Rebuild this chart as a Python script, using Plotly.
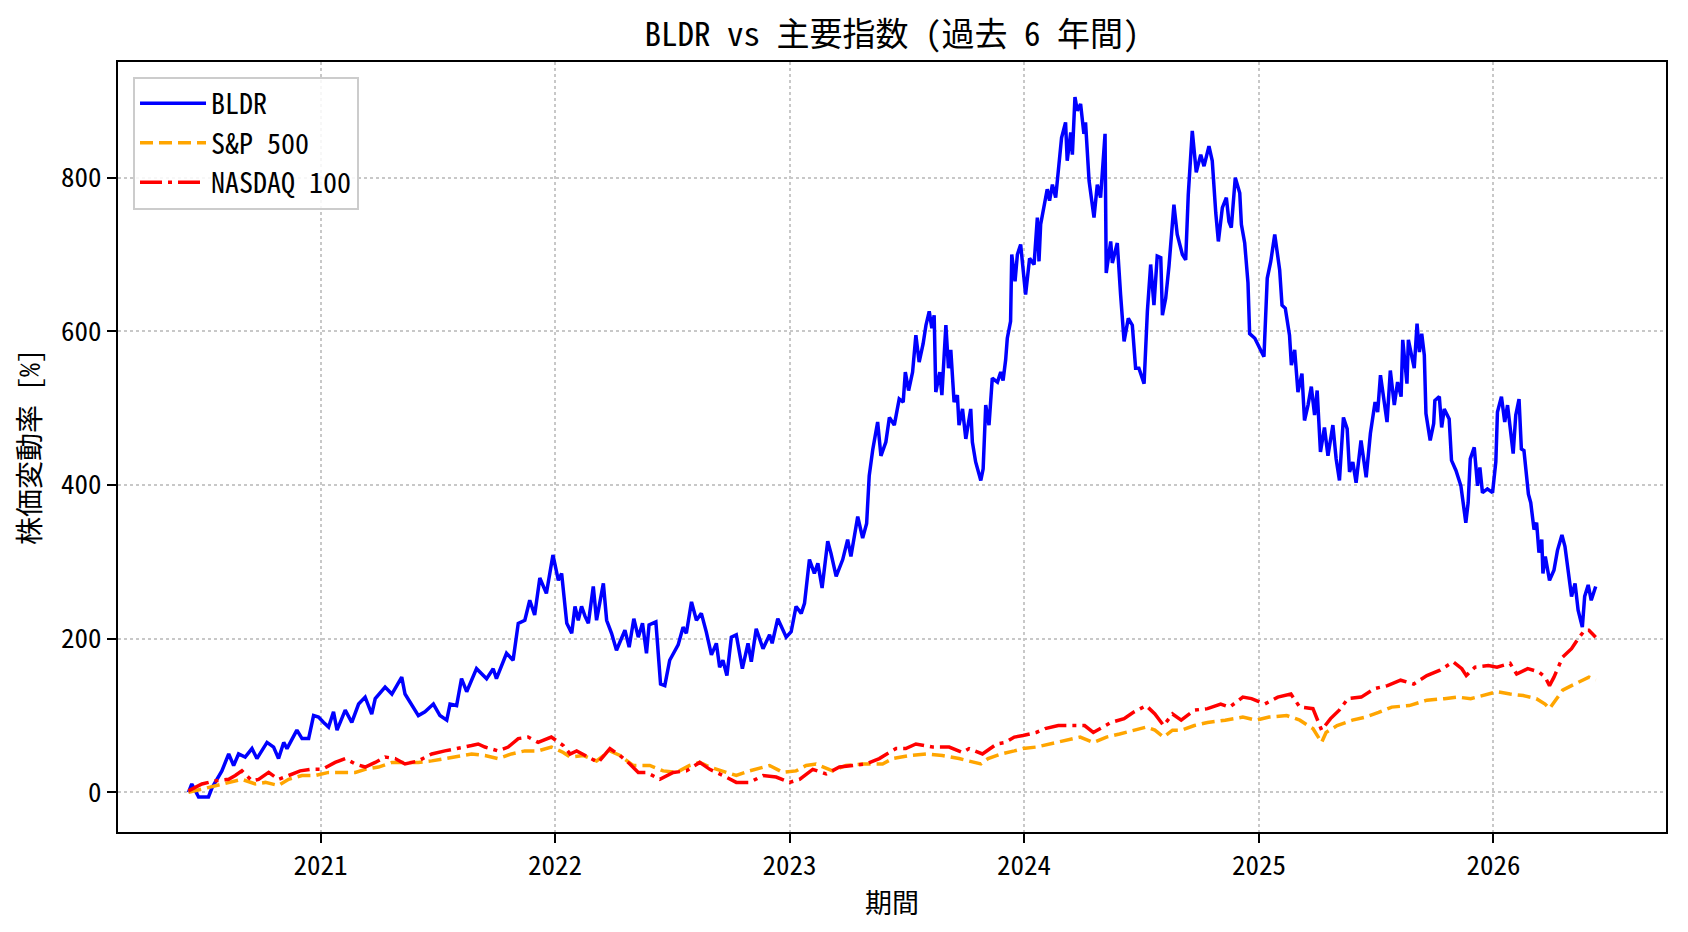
import pandas as pd
import plotly.graph_objects as go

# ---- data (dates as decimal years, values in %) ----
bldr_t = [2020.438, 2020.452, 2020.481, 2020.523, 2020.538, 2020.580, 2020.609, 2020.630, 2020.651, 2020.679,
          2020.708, 2020.729, 2020.772, 2020.800, 2020.821, 2020.843, 2020.857, 2020.899, 2020.921, 2020.949,
          2020.970, 2020.991, 2021.013, 2021.034, 2021.055, 2021.070, 2021.105, 2021.133, 2021.162, 2021.190,
          2021.218, 2021.233, 2021.275, 2021.304, 2021.325, 2021.346, 2021.360, 2021.389, 2021.417, 2021.445,
          2021.481, 2021.509, 2021.538, 2021.552, 2021.580, 2021.601, 2021.623, 2021.665, 2021.708, 2021.736,
          2021.750, 2021.793, 2021.821, 2021.843, 2021.871, 2021.892, 2021.913, 2021.935, 2021.963, 2021.991,
          2022.014, 2022.028, 2022.050, 2022.071, 2022.085, 2022.099, 2022.113, 2022.128, 2022.142, 2022.163,
          2022.177, 2022.206, 2022.220, 2022.241, 2022.262, 2022.298, 2022.316, 2022.336, 2022.355, 2022.373,
          2022.390, 2022.401, 2022.430, 2022.450, 2022.468, 2022.489, 2022.525, 2022.546, 2022.560, 2022.582,
          2022.603, 2022.624, 2022.645, 2022.667, 2022.688, 2022.702, 2022.716, 2022.733, 2022.752, 2022.773,
          2022.799, 2022.823, 2022.837, 2022.858, 2022.887, 2022.915, 2022.926, 2022.950, 2022.986, 2023.007,
          2023.028, 2023.050, 2023.064, 2023.085, 2023.106, 2023.121, 2023.139, 2023.163, 2023.177, 2023.199,
          2023.227, 2023.248, 2023.262, 2023.291, 2023.312, 2023.329, 2023.340, 2023.355, 2023.376, 2023.390,
          2023.411, 2023.426, 2023.447, 2023.468, 2023.485, 2023.494, 2023.508, 2023.525, 2023.539, 2023.553,
          2023.570, 2023.582, 2023.596, 2023.607, 2023.617, 2023.624, 2023.641, 2023.650, 2023.667, 2023.678,
          2023.688, 2023.702, 2023.716, 2023.723, 2023.738, 2023.752, 2023.773, 2023.780, 2023.794, 2023.816,
          2023.826, 2023.837, 2023.851, 2023.865, 2023.887, 2023.901, 2023.911, 2023.922, 2023.929, 2023.943,
          2023.948, 2023.962, 2023.972, 2023.986, 2024.007, 2024.024, 2024.043, 2024.057, 2024.064, 2024.071,
          2024.085, 2024.099, 2024.109, 2024.121, 2024.135, 2024.146, 2024.160, 2024.177, 2024.184, 2024.199,
          2024.206, 2024.217, 2024.227, 2024.241, 2024.255, 2024.262, 2024.277, 2024.298, 2024.312, 2024.326,
          2024.345, 2024.350, 2024.369, 2024.376, 2024.397, 2024.411, 2024.426, 2024.444, 2024.461, 2024.475,
          2024.489, 2024.511, 2024.525, 2024.539, 2024.553, 2024.567, 2024.582, 2024.589, 2024.603, 2024.617,
          2024.638, 2024.652, 2024.674, 2024.688, 2024.699, 2024.716, 2024.733, 2024.752, 2024.766, 2024.787,
          2024.801, 2024.816, 2024.827, 2024.844, 2024.861, 2024.872, 2024.882, 2024.899, 2024.918, 2024.925,
          2024.939, 2024.953, 2024.960, 2024.982, 2025.003, 2025.021, 2025.035, 2025.050, 2025.067, 2025.088,
          2025.098, 2025.112, 2025.130, 2025.138, 2025.152, 2025.166, 2025.183, 2025.194, 2025.209, 2025.223,
          2025.237, 2025.248, 2025.262, 2025.279, 2025.294, 2025.315, 2025.329, 2025.343, 2025.360, 2025.376,
          2025.386, 2025.400, 2025.414, 2025.435, 2025.457, 2025.475, 2025.495, 2025.506, 2025.518, 2025.546,
          2025.560, 2025.577, 2025.591, 2025.606, 2025.613, 2025.631, 2025.637, 2025.662, 2025.674, 2025.684,
          2025.694, 2025.705, 2025.712, 2025.730, 2025.745, 2025.750, 2025.769, 2025.779, 2025.790, 2025.811,
          2025.821, 2025.840, 2025.861, 2025.882, 2025.892, 2025.901, 2025.918, 2025.932, 2025.942, 2025.953,
          2025.974, 2025.996, 2026.010, 2026.017, 2026.034, 2026.048, 2026.060, 2026.084, 2026.095, 2026.109,
          2026.119, 2026.130, 2026.149, 2026.159, 2026.173, 2026.184, 2026.194, 2026.206, 2026.211, 2026.221,
          2026.239, 2026.258, 2026.273, 2026.292, 2026.305, 2026.333, 2026.348, 2026.361, 2026.379, 2026.389,
          2026.404, 2026.417, 2026.436]
bldr_v = [0, 11, -6, -6, 6, 28, 50, 35, 50, 46,
          57, 44, 65, 59, 44, 65, 57, 81, 70, 70,
          100, 98, 91, 85, 105, 81, 107, 91, 115, 124,
          102, 122, 137, 128, 139, 150, 128, 113, 100, 105,
          115, 100, 94, 115, 113, 148, 131, 161, 148, 161,
          148, 181, 172, 220, 224, 250, 231, 279, 259, 309,
          276, 285, 220, 207, 242, 224, 242, 229, 220, 268,
          224, 272, 224, 207, 185, 211, 189, 226, 202, 220,
          181, 218, 222, 141, 139, 172, 192, 215, 207, 248,
          224, 233, 209, 179, 194, 163, 172, 152, 202, 205,
          161, 194, 170, 213, 187, 205, 194, 226, 202, 209,
          242, 233, 246, 303, 285, 298, 266, 327, 311, 281,
          303, 329, 307, 359, 331, 350, 412, 446, 482, 438,
          456, 488, 478, 512, 508, 547, 523, 547, 595, 560,
          584, 608, 626, 604, 621, 521, 547, 517, 608, 552,
          576, 508, 517, 478, 499, 460, 499, 456, 430, 406,
          421, 504, 478, 539, 534, 547, 536, 563, 591, 613,
          700, 665, 700, 713, 648, 695, 687, 748, 691, 739,
          761, 785, 770, 791, 774, 804, 852, 872, 822, 859,
          830, 905, 887, 896, 857, 872, 796, 748, 791, 774,
          857, 676, 717, 689, 715, 648, 587, 617, 608, 552,
          552, 532, 626, 687, 634, 698, 696, 621, 643, 685,
          765, 726, 700, 693, 778, 861, 807, 830, 815, 841,
          822, 754, 717, 761, 774, 743, 735, 800, 780, 739,
          715, 663, 597, 591, 578, 567, 669, 691, 726, 680,
          634, 630, 595, 556, 576, 521, 545, 484, 504, 528,
          491, 523, 443, 475, 438, 478, 434, 406, 488, 473,
          417, 430, 403, 458, 410, 467, 508, 495, 543, 482,
          549, 504, 534, 515, 589, 532, 589, 552, 610, 573,
          597, 569, 493, 458, 480, 510, 515, 475, 499, 486,
          432, 419, 399, 351, 377, 434, 449, 399, 423, 390,
          395, 390, 430, 495, 515, 482, 504, 441, 491, 512,
          447, 445, 388, 377, 342, 351, 312, 329, 285, 307,
          276, 289, 315, 335, 320, 255, 272, 237, 215, 255,
          270, 250, 268]

sp_t = [2020.438, 2020.495, 2020.552, 2020.609, 2020.665, 2020.722, 2020.765, 2020.821, 2020.864, 2020.921,
        2020.977, 2021.034, 2021.091, 2021.148, 2021.190, 2021.247, 2021.304, 2021.360, 2021.417, 2021.474,
        2021.530, 2021.587, 2021.644, 2021.701, 2021.757, 2021.814, 2021.871, 2021.928, 2021.984, 2022.035,
        2022.064, 2022.121, 2022.177, 2022.234, 2022.277, 2022.333, 2022.404, 2022.461, 2022.518, 2022.574,
        2022.617, 2022.660, 2022.716, 2022.773, 2022.830, 2022.915, 2022.972, 2023.028, 2023.071, 2023.113,
        2023.184, 2023.241, 2023.312, 2023.397, 2023.440, 2023.511, 2023.582, 2023.652, 2023.723, 2023.766,
        2023.816, 2023.847, 2023.903, 2023.959, 2023.996, 2024.052, 2024.108, 2024.164, 2024.239, 2024.295,
        2024.351, 2024.407, 2024.464, 2024.520, 2024.557, 2024.594, 2024.632, 2024.669, 2024.725, 2024.781,
        2024.856, 2024.931, 2024.987, 2025.043, 2025.118, 2025.174, 2025.230, 2025.267, 2025.286, 2025.333,
        2025.398, 2025.454, 2025.510, 2025.566, 2025.641, 2025.716, 2025.791, 2025.847, 2025.903, 2025.959,
        2026.015, 2026.071, 2026.127, 2026.183, 2026.220, 2026.239, 2026.258, 2026.295, 2026.333, 2026.370,
        2026.407, 2026.436]
sp_v = [0, 4, 9, 13, 17, 11, 13, 9, 17, 22,
        22, 26, 26, 26, 30, 33, 39, 39, 39, 41,
        44, 46, 50, 48, 44, 50, 54, 54, 59, 52,
        46, 48, 41, 54, 48, 35, 35, 28, 26, 35,
        39, 33, 28, 22, 28, 35, 26, 28, 35, 37,
        28, 35, 37, 37, 44, 48, 50, 48, 44, 41,
        37, 44, 50, 54, 57, 59, 63, 67, 72, 65,
        72, 76, 81, 85, 81, 72, 81, 81, 87, 91,
        94, 98, 94, 98, 100, 94, 83, 65, 78, 87,
        94, 98, 104, 111, 113, 120, 122, 124, 122, 126,
        131, 128, 126, 122, 115, 109, 117, 133, 139, 144,
        150, 146]

nq_t = [2020.438, 2020.495, 2020.552, 2020.609, 2020.637, 2020.665, 2020.708, 2020.736, 2020.779, 2020.821,
        2020.864, 2020.913, 2020.956, 2021.006, 2021.062, 2021.105, 2021.148, 2021.190, 2021.233, 2021.275,
        2021.318, 2021.360, 2021.417, 2021.474, 2021.530, 2021.587, 2021.644, 2021.672, 2021.701, 2021.757,
        2021.800, 2021.843, 2021.885, 2021.928, 2021.984, 2022.035, 2022.064, 2022.092, 2022.149, 2022.184,
        2022.234, 2022.277, 2022.319, 2022.355, 2022.390, 2022.447, 2022.504, 2022.560, 2022.617, 2022.660,
        2022.716, 2022.773, 2022.830, 2022.887, 2022.943, 2023.000, 2023.043, 2023.099, 2023.156, 2023.213,
        2023.270, 2023.326, 2023.383, 2023.454, 2023.496, 2023.539, 2023.610, 2023.681, 2023.738, 2023.766,
        2023.823, 2023.884, 2023.921, 2023.959, 2023.996, 2024.052, 2024.090, 2024.146, 2024.202, 2024.258,
        2024.295, 2024.333, 2024.370, 2024.426, 2024.464, 2024.520, 2024.557, 2024.594, 2024.632, 2024.669,
        2024.725, 2024.781, 2024.837, 2024.875, 2024.931, 2024.968, 2025.024, 2025.080, 2025.136, 2025.174,
        2025.230, 2025.267, 2025.305, 2025.342, 2025.379, 2025.436, 2025.492, 2025.548, 2025.604, 2025.660,
        2025.716, 2025.772, 2025.828, 2025.865, 2025.884, 2025.921, 2025.978, 2026.015, 2026.071, 2026.099,
        2026.146, 2026.192, 2026.220, 2026.239, 2026.258, 2026.295, 2026.333, 2026.361, 2026.389, 2026.407,
        2026.436]
nq_v = [2, 11, 15, 17, 22, 28, 15, 17, 26, 17,
        22, 28, 30, 30, 39, 44, 37, 33, 39, 46,
        44, 37, 41, 50, 54, 57, 61, 63, 59, 54,
        59, 70, 72, 65, 72, 61, 50, 54, 44, 39,
        57, 48, 37, 26, 26, 17, 26, 28, 39, 30,
        22, 13, 13, 22, 20, 13, 17, 30, 24, 33,
        35, 37, 44, 57, 57, 63, 59, 59, 52, 57,
        50, 63, 65, 72, 74, 78, 83, 87, 87, 87,
        78, 85, 91, 96, 104, 113, 102, 87, 102, 94,
        107, 109, 115, 111, 124, 122, 115, 124, 128, 111,
        109, 81, 96, 107, 122, 124, 135, 139, 146, 141,
        152, 159, 170, 161, 152, 163, 165, 163, 168, 154,
        161, 157, 150, 139, 150, 176, 187, 200, 211, 211,
        202]

year_ticks = [2021, 2022, 2023, 2024, 2025, 2026]
y_ticks = [0, 200, 400, 600, 800]


def to_dates(years):
    out = []
    for y in years:
        yi = int(y)
        start = pd.Timestamp(year=yi, month=1, day=1)
        end = pd.Timestamp(year=yi + 1, month=1, day=1)
        out.append(start + (end - start) * (y - yi))
    return out


FONT = "Noto Sans Mono CJK JP, Noto Sans CJK JP, sans-serif"

fig = go.Figure()
fig.add_trace(go.Scatter(x=to_dates(bldr_t), y=bldr_v, mode="lines", name="BLDR",
                         line=dict(color="#0000ff", width=3.5)))
fig.add_trace(go.Scatter(x=to_dates(sp_t), y=sp_v, mode="lines", name="S&P 500",
                         line=dict(color="#ffa500", width=3.5, dash="13px,6px")))
fig.add_trace(go.Scatter(x=to_dates(nq_t), y=nq_v, mode="lines", name="NASDAQ 100",
                         line=dict(color="#ff0000", width=3.5, dash="22px,6px,4px,6px")))

# axis ranges with 5% padding like the original
all_t = bldr_t + sp_t + nq_t
all_v = bldr_v + sp_v + nq_v
tspan = max(all_t) - min(all_t)
vspan = max(all_v) - min(all_v)
xr = to_dates([min(all_t) - 0.05 * tspan, max(all_t) + 0.05 * tspan])
yr = [min(all_v) - 0.05 * vspan, max(all_v) + 0.05 * vspan]

tick_dates = [pd.Timestamp(year=y, month=1, day=1) for y in year_ticks]

fig.update_layout(
    width=1688, height=932,
    margin=dict(l=118, r=22, t=62, b=100),
    paper_bgcolor="white", plot_bgcolor="white",
    font=dict(family=FONT, size=27, color="black"),
    title=dict(text="BLDR vs 主要指数 (過去 6 年間)", x=0.5, xanchor="center",
               xref="paper", y=1 - 34 / 932, yanchor="middle", font=dict(size=33, family=FONT)),
    showlegend=True,
    legend=dict(x=0.0097, y=0.981, xanchor="left", yanchor="top",
                bgcolor="rgba(255,255,255,0.85)", bordercolor="#cccccc", borderwidth=2,
                font=dict(size=28, family=FONT), itemwidth=66),
)
fig.update_xaxes(
    type="date", range=xr,
    tickvals=tick_dates, ticktext=[str(y) for y in year_ticks],
    showline=True, linecolor="black", linewidth=2, mirror=True,
    ticks="outside", ticklen=9, tickwidth=2, tickcolor="black",
    showgrid=True, gridcolor="#c8c8c8", griddash="dot", gridwidth=1.5,
    zeroline=False, tickfont=dict(size=27),
    title=dict(text="期間", font=dict(size=27), standoff=12),
)
fig.update_yaxes(
    range=yr, tickvals=y_ticks,
    showline=True, linecolor="black", linewidth=2, mirror=True,
    ticks="outside", ticklen=9, tickwidth=2, tickcolor="black",
    showgrid=True, gridcolor="#c8c8c8", griddash="dot", gridwidth=1.5,
    zeroline=False, tickfont=dict(size=27),
    title=dict(text="株価変動率 [%]", font=dict(size=28), standoff=12),
)

fig.write_html("out.html")
